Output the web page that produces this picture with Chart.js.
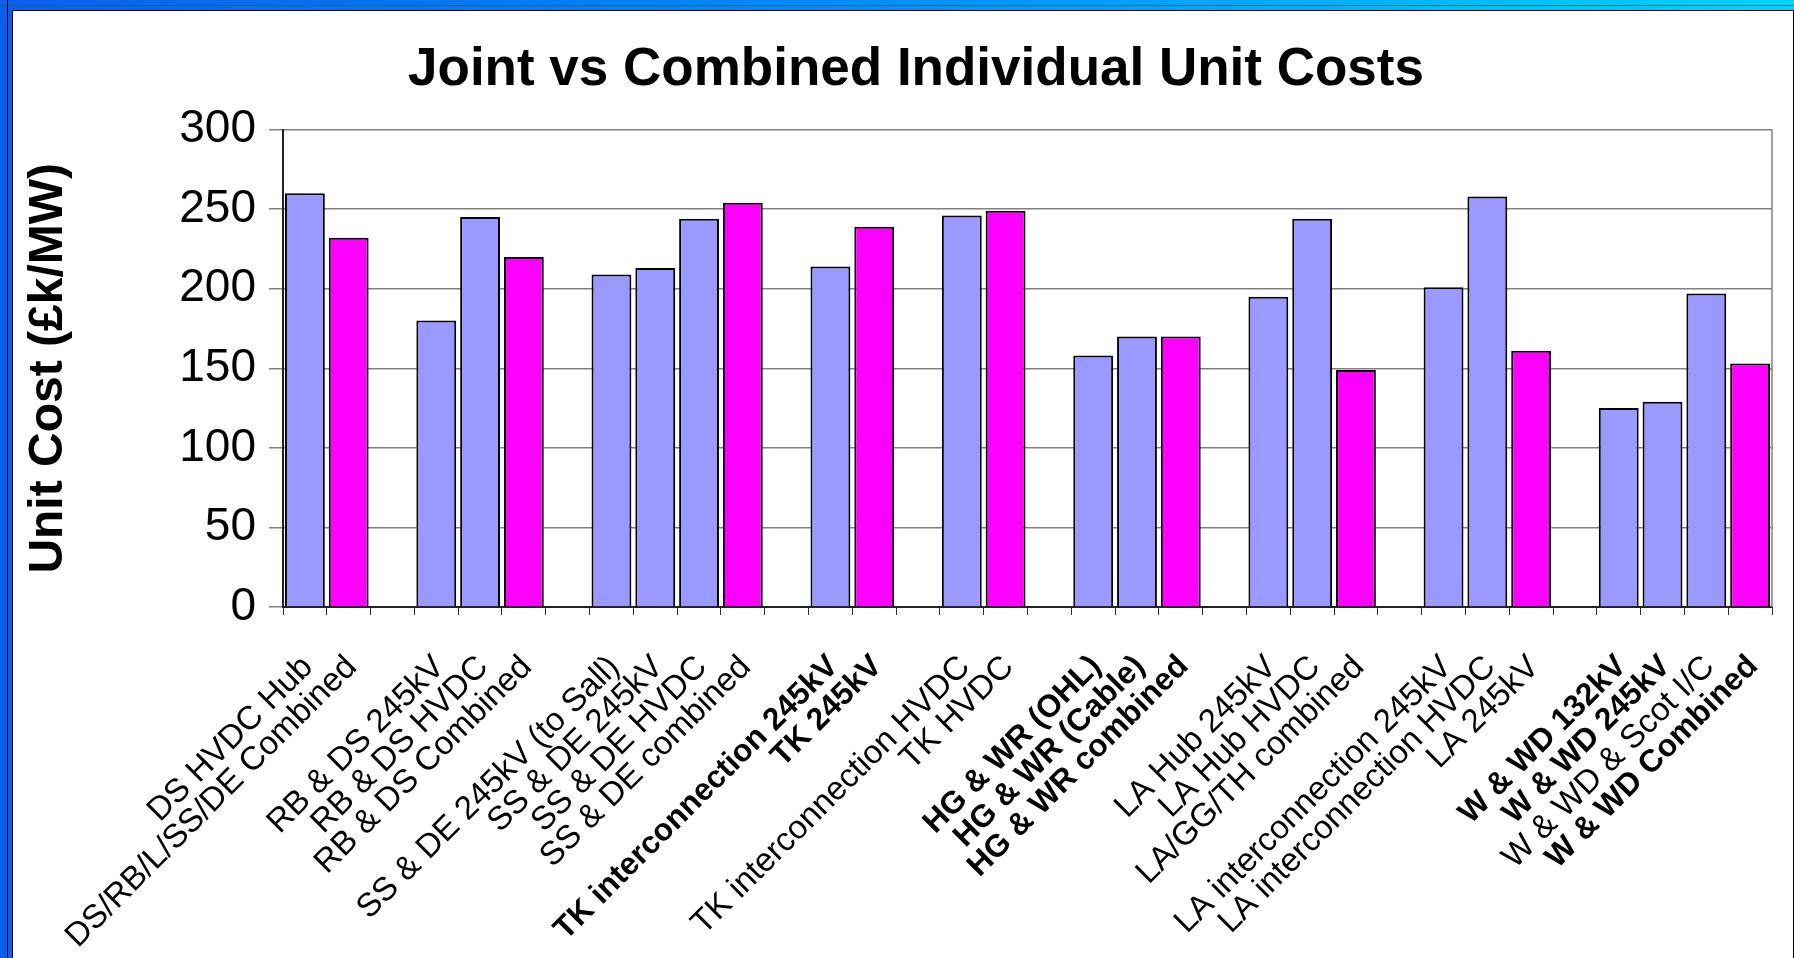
<!DOCTYPE html>
<html>
<head>
<meta charset="utf-8">
<title>Joint vs Combined Individual Unit Costs</title>
<script src="https://cdn.jsdelivr.net/npm/chart.js@4.4.1/dist/chart.umd.min.js"></script>
<style>
  html, body { margin: 0; padding: 0; }
  body {
    width: 1794px; height: 958px; position: relative; overflow: hidden;
    background: linear-gradient(90deg, #0a5ef0 0%, #0090ff 50%, #00d4ff 100%);
  }
  #topline { position: absolute; left: 0; top: 5px; width: 1794px; height: 1px; background: #0a6a8a; }
  #leftline { position: absolute; left: 7px; top: 0; width: 1px; height: 958px; background: #000; }
  #panel {
    position: absolute; left: 12px; top: 10px; width: 1780px; height: 948px;
    background: #fff; border-left: 1px solid #000; border-top: 1px solid #000; border-right: 1px solid #000;
  }
  #costChart { position: absolute; left: 0; top: 0; }
</style>
</head>
<body>
<div id="topline"></div>
<div id="leftline"></div>
<div id="panel"></div>
<canvas id="costChart" width="1794" height="958"></canvas>
<script>
// categories, '' marks the empty gap slots between groups
const categories = [
    'DS HVDC Hub', 'DS/RB/L/SS/DE Combined', '',
    'RB & DS 245kV', 'RB & DS HVDC', 'RB & DS Combined', '',
    'SS & DE 245kV (to Sall)', 'SS & DE 245kV', 'SS & DE HVDC', 'SS & DE combined', '',
    'TK interconnection 245kV', 'TK 245kV', '',
    'TK interconnection HVDC', 'TK HVDC', '',
    'HG & WR (OHL)', 'HG & WR (Cable)', 'HG & WR combined', '',
    'LA Hub 245kV', 'LA Hub HVDC', 'LA/GG/TH combined', '',
    'LA interconnection 245kV', 'LA interconnection HVDC', 'LA 245kV', '',
    'W & WD 132kV', 'W & WD 245kV', 'W & WD & Scot I/C', 'W & WD Combined'
];

// individual (joint) unit costs, blue bars
const individualCosts = [
    260, null, null,
    180, 245, null, null,
    209, 213, 244, null, null,
    214, null, null,
    246, null, null,
    158, 170, null, null,
    195, 244, null, null,
    201, 258, null, null,
    125, 129, 197, null
];

// combined unit costs, magenta bars
const combinedCosts = [
    null, 232, null,
    null, null, 220, null,
    null, null, null, 254, null,
    null, 239, null,
    null, 249, null,
    null, null, 170, null,
    null, null, 149, null,
    null, null, 161, null,
    null, null, null, 153
];

const boldCategories = [
    'TK interconnection 245kV', 'TK 245kV',
    'HG & WR (OHL)', 'HG & WR (Cable)', 'HG & WR combined',
    'W & WD 132kV', 'W & WD 245kV', 'W & WD Combined'
];

const yMin = 0, yMax = 300, yStep = 50;

const FONT = "'Liberation Sans', Arial, Helvetica, sans-serif";
Chart.defaults.font.family = FONT;
Chart.defaults.color = '#000';

// gray frame line on the right side of the plot
const plotBorder = {
    id: 'plotBorder',
    afterDraw(chart) {
        const { ctx, chartArea } = chart;
        ctx.save();
        ctx.strokeStyle = '#808080';
        ctx.lineWidth = 1.5;
        ctx.beginPath();
        ctx.moveTo(chartArea.right, chartArea.top);
        ctx.lineTo(chartArea.right, chartArea.bottom);
        ctx.stroke();
        ctx.restore();
    }
};

const ctx = document.getElementById('costChart').getContext('2d');
new Chart(ctx, {
    type: 'bar',
    data: {
        labels: categories,
        datasets: [
            {
                label: 'Individual',
                data: individualCosts,
                backgroundColor: '#9999ff',
                borderColor: '#000',
                borderWidth: 2,
                grouped: false,
                barPercentage: 0.91,
                categoryPercentage: 1
            },
            {
                label: 'Combined',
                data: combinedCosts,
                backgroundColor: '#ff00ff',
                borderColor: '#000',
                borderWidth: 2,
                grouped: false,
                barPercentage: 0.91,
                categoryPercentage: 1
            }
        ]
    },
    options: {
        responsive: false,
        animation: false,
        devicePixelRatio: 1,
        layout: { padding: { left: 60, right: 22, top: 0, bottom: 0 } },
        plugins: {
            legend: { display: false },
            tooltip: { enabled: false },
            title: {
                display: true,
                text: 'Joint vs Combined Individual Unit Costs',
                color: '#000',
                font: { size: 53, weight: 'bold' },
                padding: { top: 39, bottom: 27 }
            }
        },
        scales: {
            x: {
                grid: { offset: true, drawOnChartArea: false, tickLength: 8, color: '#333', lineWidth: 1 },
                border: { color: '#222', width: 2 },
                ticks: {
                    autoSkip: false,
                    minRotation: 45,
                    maxRotation: 45,
                    padding: 33,
                    labelOffset: 3,
                    color: '#000',
                    font: (c) => boldCategories.includes(categories[c.index])
                        ? { size: 31.5, weight: 'bold' }
                        : { size: 33, weight: 'normal' }
                },
                afterFit: (s) => {
                    s.height = 351;
                    s.paddingLeft = 0;
                    s.paddingRight = 0;
                }
            },
            y: {
                min: yMin,
                max: yMax,
                ticks: { stepSize: yStep, padding: 13, color: '#000', font: { size: 46 } },
                grid: { color: '#808080', lineWidth: 1.5, tickLength: 14 },
                border: { color: '#222', width: 2 },
                title: {
                    display: true,
                    text: 'Unit Cost (£k/MW)',
                    color: '#000',
                    font: { size: 48, weight: 'bold' },
                    padding: { top: -40, bottom: 0 }
                },
                afterFit: (s) => {
                    s.width = 223;
                }
            }
        }
    },
    plugins: [plotBorder]
});
</script>
</body>
</html>
